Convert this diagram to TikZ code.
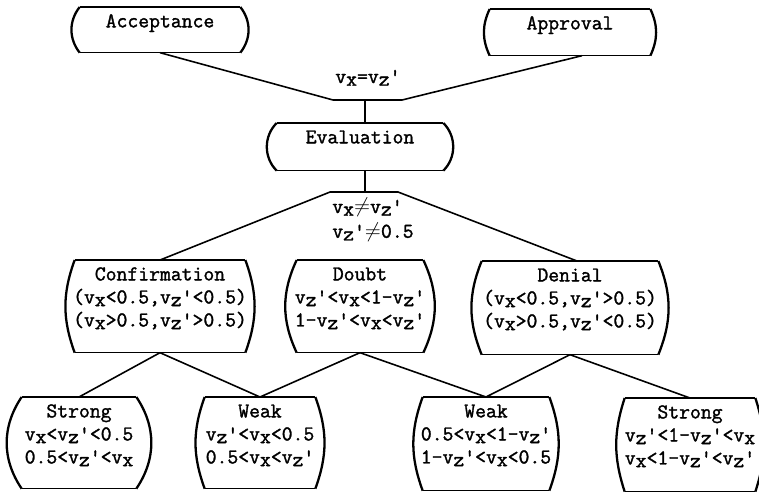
\documentclass[tikz,border=0pt]{standalone}
\usepackage{fontspec}
\setmonofont{Latin Modern Mono}[FakeBold=1.5]
\newcommand{\vx}{v\raisebox{-.3ex}{x}}
\newcommand{\vz}{v\raisebox{-.3ex}{z}'}
\newcommand{\nq}{\ensuremath{\neq}}
\newcommand{\barreltext}[3]{\parbox[c][#1][t]{#2}{\centering\rule{0pt}{11.4pt}%
    \makebox[0pt]{\begin{tabular}[t]{@{}c@{}}#3\end{tabular}}}}
\newcommand{\barrel}[2][30]{%
    \draw[rim] (#2.north west) -- (#2.north east);
    \draw[rim] (#2.south west) -- (#2.south east);
    \draw[side] (#2.north east) to[bend left=#1] (#2.south east);
    \draw[side] (#2.south west) to[bend left=#1] (#2.north west);}
\tikzset{
    barrel/.style={inner sep=0pt, anchor=north},
    cond/.style={inner sep=0pt},
    rim/.style={line width=.7pt},
    side/.style={line width=1.3pt},
    link/.style={line width=.9pt}
}

\begin{document}
\begin{tikzpicture}[x=0.02cm, y=-0.02cm, font=\ttfamily\fontsize{12}{13.1}\selectfont]
\useasboundingbox (0,0) rectangle (759,493);
\node[barrel] (acc) at (160,7) {\barreltext{0.9cm}{3.2cm}{Acceptance}};
\node[barrel] (appr) at (570,9) {\barreltext{0.92cm}{3.2cm}{Approval}};
\node[barrel] (eval) at (360,123) {\barreltext{0.94cm}{3.32cm}{Evaluation}};
\node[barrel] (conf) at (160,260) {\barreltext{1.84cm}{3.4cm}{Confirmation\\(\vx<0.5,\vz<0.5)\\(\vx>0.5,\vz>0.5)}};
\node[barrel] (doubt) at (360,260) {\barreltext{1.84cm}{2.52cm}{Doubt\\\vz<\vx<1-\vz\\1-\vz<\vx<\vz}};
\node[barrel] (denial) at (570,261) {\barreltext{1.86cm}{3.52cm}{Denial\\(\vx<0.5,\vz>0.5)\\(\vx>0.5,\vz<0.5)}};
\node[barrel] (strongA) at (79,397) {\barreltext{1.82cm}{2.28cm}{Strong\\\vx<\vz<0.5\\0.5<\vz<\vx}};
\node[barrel] (weakA) at (260,397) {\barreltext{1.82cm}{2.2cm}{Weak\\\vz<\vx<0.5\\0.5<\vx<\vz}};
\node[barrel] (weakB) at (486,397) {\barreltext{1.86cm}{2.52cm}{Weak\\0.5<\vx<1-\vz\\1-\vz<\vx<0.5}};
\node[barrel] (strongB) at (690,398) {\barreltext{1.86cm}{2.6cm}{Strong\\\vz<1-\vz<\vx\\\vx<1-\vz<\vz}};
\foreach \n/\b in {acc/38, appr/25, eval/45, conf/20, doubt/25, denial/22, strongA/34, weakA/20, weakB/20, strongB/18}
    \barrel[\b]{\n};

\node[cond, anchor=base west] (same) at (335,83) {\vx=\vz};
\node[cond, anchor=north west, align=left] (differ) at (332,198) {\vx\nq\vz\\[1pt]\vz\nq0.5};

\coordinate (jl) at (333,100);
\coordinate (jm) at (365,100);
\coordinate (jr) at (402,100);
\coordinate (kl) at (330,192);
\coordinate (km) at (365,192);
\coordinate (kr) at (398,192);
\draw[link] (acc.south) -- (jl) -- (jr) -- ([xshift=.24cm]appr.south);
\draw[link] (jm) -- (jm |- eval.north);
\draw[link] (km |- eval.south) -- (km);
\draw[link] (conf.north) -- (kl) -- (kr) -- ([xshift=.14cm]denial.north);
\foreach \a/\b in {conf/strongA, conf/weakA, doubt/weakA, doubt/weakB, denial/weakB, denial/strongB}
    \draw[link] (\a.south) -- (\b.north);
\end{tikzpicture}
\end{document}
